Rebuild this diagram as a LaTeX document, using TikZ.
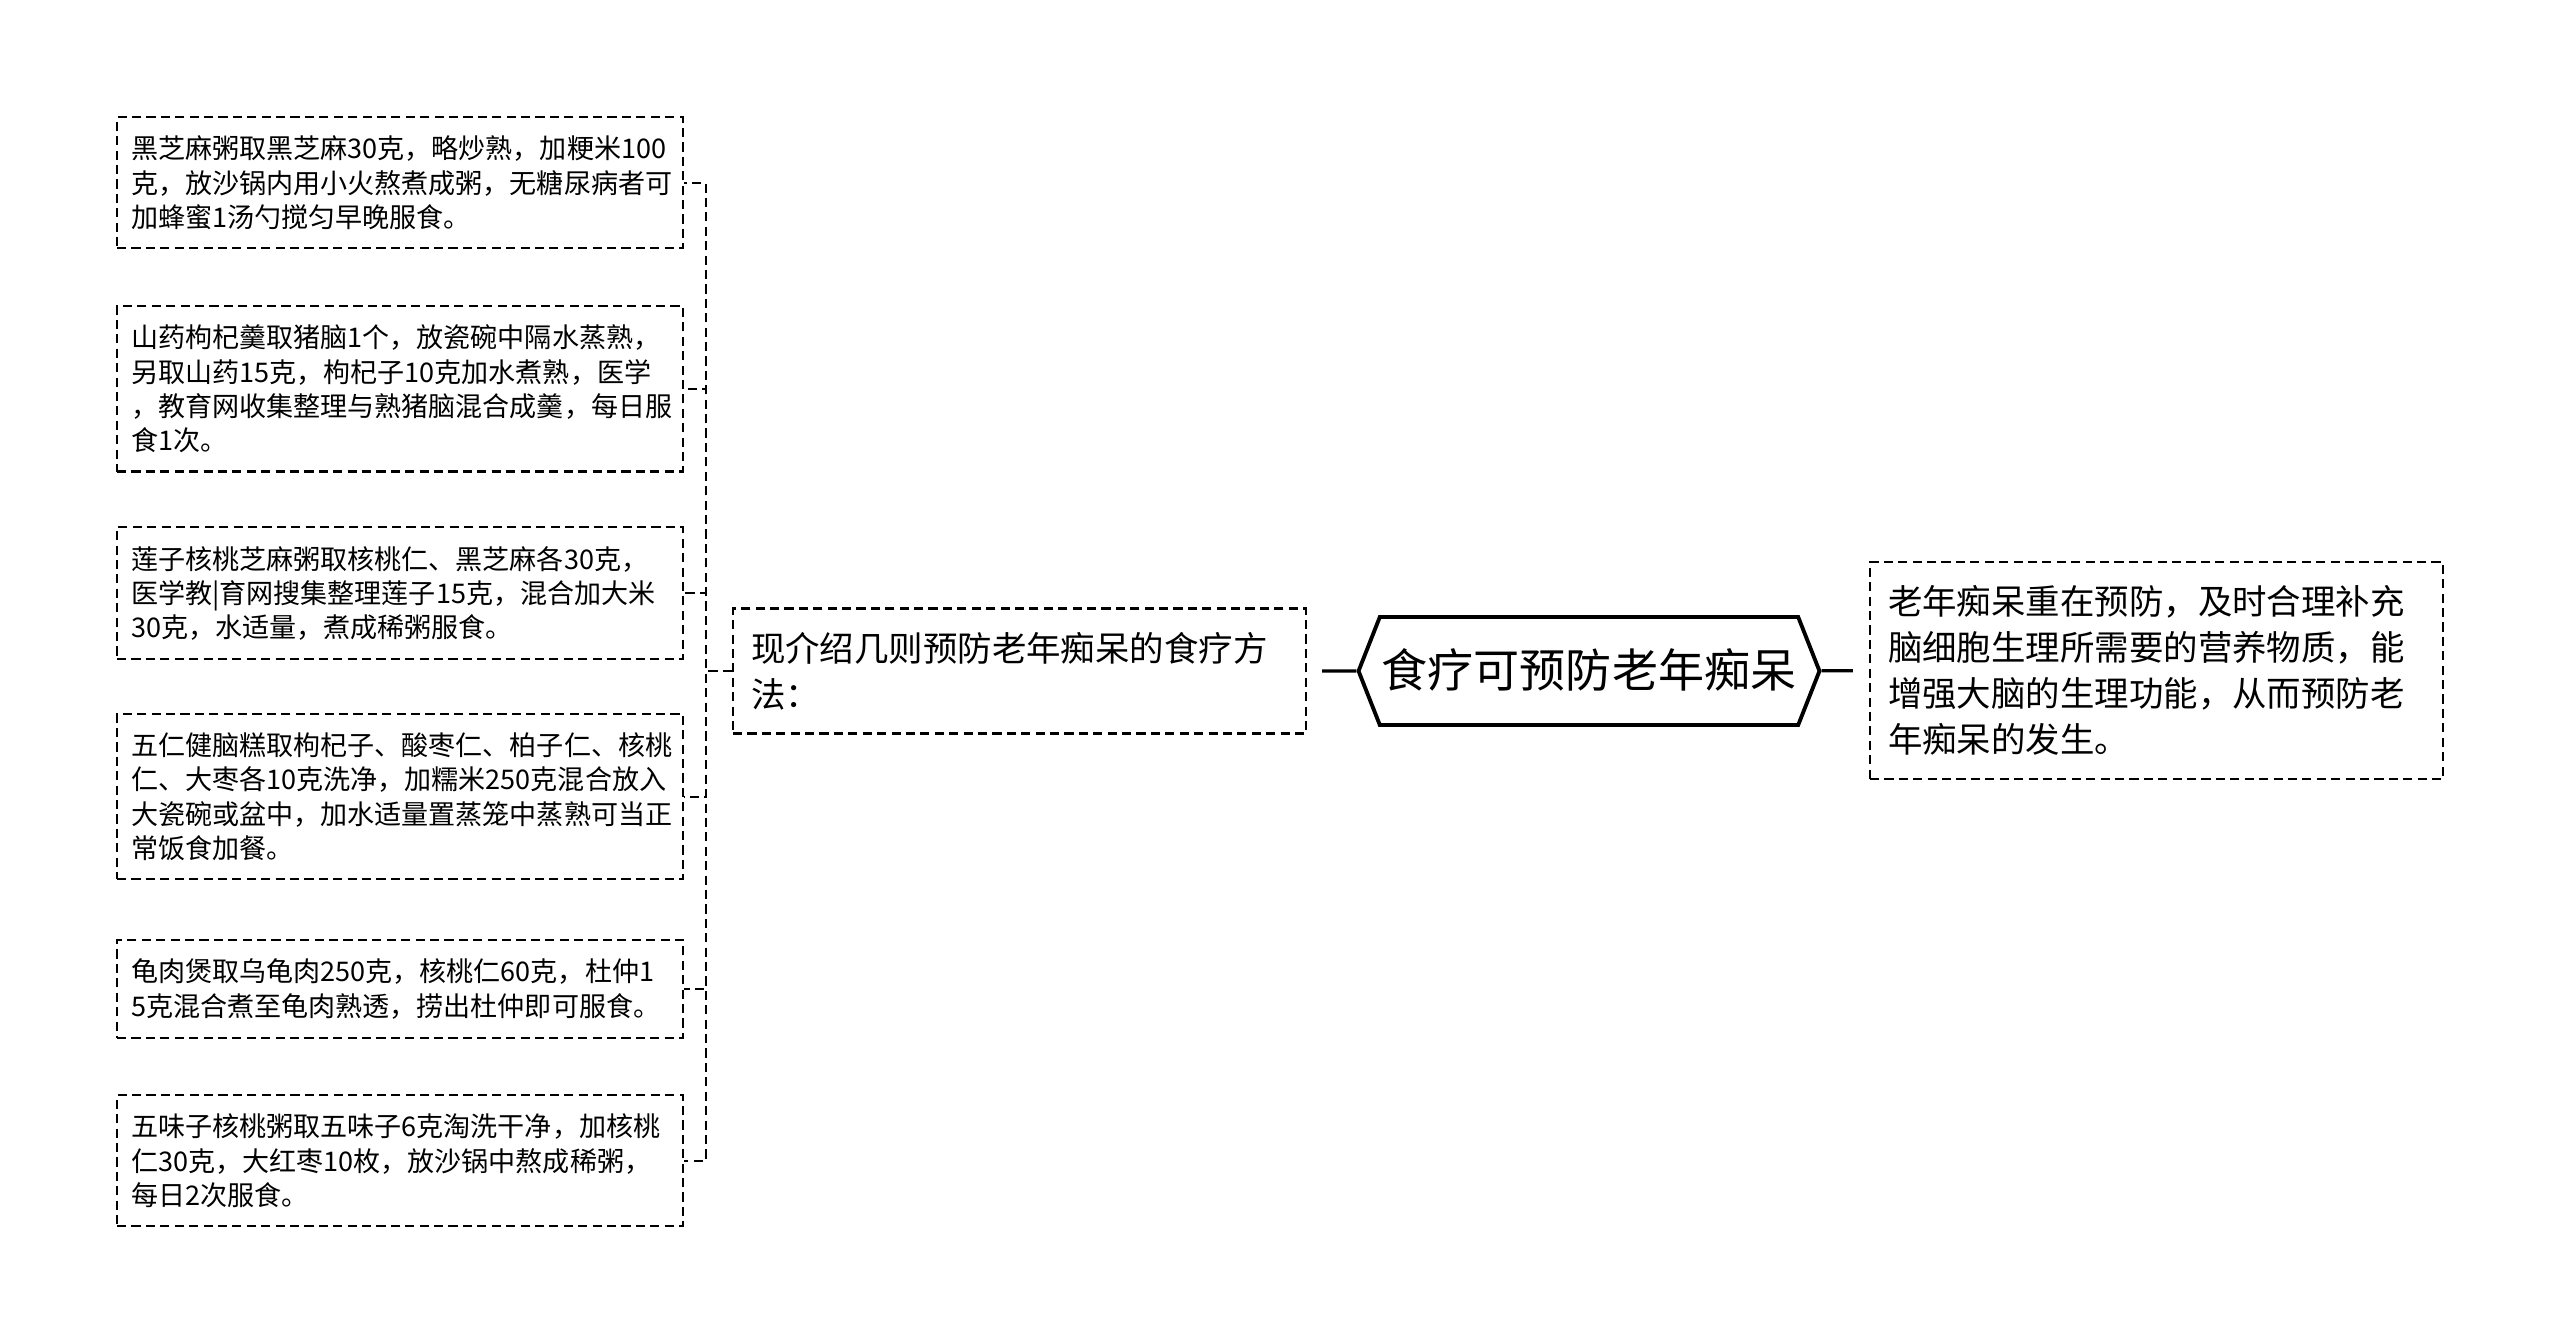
\documentclass[tikz,border=0pt]{standalone}
\usepackage{fontspec}
\setmainfont{Noto Sans CJK SC}
\usetikzlibrary{shapes.symbols}

\begin{document}
\begin{tikzpicture}[
	box/.style={draw, line width=0.6pt, dash pattern=on 2.6pt off 1.5pt, align=left},
	leaf/.style={box, anchor=north west, text width=5.38cm, inner xsep=0.14cm, inner ysep=0.19cm, font=\fontsize{7.7pt}{9.7pt}\selectfont},
	note/.style={box, text width=5.37cm, inner xsep=0.18cm, inner ysep=0.235cm, font=\fontsize{9.8pt}{13.1pt}\selectfont},
	topic/.style={draw, line width=1.1pt, signal, signal to=east and west, signal pointer angle=137, inner xsep=0.02cm, inner ysep=0.32cm, text height=0.38cm, text depth=0.06cm, font=\fontsize{13.1pt}{15pt}\selectfont},
	dlink/.style={line width=0.6pt, dash pattern=on 2.6pt off 1.5pt},
	slink/.style={line width=0.9pt}]
	\useasboundingbox (0,0) rectangle (25.6,-13.42);
	% centre topic and the two branches
	\node[topic] (root) at (15.89,-6.71) {食疗可预防老年痴呆};
	\node[note] (ways) at (10.195,-6.71) {现介绍几则预防老年痴呆的食疗方\\法：};
	\node[note] (gist) at (21.565,-6.705) {老年痴呆重在预防，及时合理补充\\脑细胞生理所需要的营养物质，能\\增强大脑的生理功能，从而预防老\\年痴呆的发生。};
	% recipes
	\node[leaf] (recipe1) at (1.16,-1.16) {黑芝麻粥取黑芝麻30克，略炒熟，加粳米100\\克，放沙锅内用小火熬煮成粥，无糖尿病者可\\加蜂蜜1汤勺搅匀早晚服食。};
	\node[leaf] (recipe2) at (1.16,-3.05) {山药枸杞羹取猪脑1个，放瓷碗中隔水蒸熟，\\另取山药15克，枸杞子10克加水煮熟，医学\\，教育网收集整理与熟猪脑混合成羹，每日服\\食1次。};
	\node[leaf] (recipe3) at (1.16,-5.26) {莲子核桃芝麻粥取核桃仁、黑芝麻各30克，\\医学教|育网搜集整理莲子15克，混合加大米\\30克，水适量，煮成稀粥服食。};
	\node[leaf] (recipe4) at (1.16,-7.13) {五仁健脑糕取枸杞子、酸枣仁、柏子仁、核桃\\仁、大枣各10克洗净，加糯米250克混合放入\\大瓷碗或盆中，加水适量置蒸笼中蒸熟可当正\\常饭食加餐。};
	\node[leaf] (recipe5) at (1.16,-9.39) {龟肉煲取乌龟肉250克，核桃仁60克，杜仲1\\5克混合煮至龟肉熟透，捞出杜仲即可服食。};
	\node[leaf] (recipe6) at (1.16,-10.94) {五味子核桃粥取五味子6克淘洗干净，加核桃\\仁30克，大红枣10枚，放沙锅中熬成稀粥，\\每日2次服食。};
	% links
	\draw[slink, shorten >=0.15cm] (root) -- (ways);
	\draw[slink, shorten >=0.16cm] (root) -- (gist);
	\foreach \i in {1,...,6}
		\draw[dlink] (ways.west) -- ++(-0.26,0) |- (recipe\i.east);
\end{tikzpicture}
\end{document}
